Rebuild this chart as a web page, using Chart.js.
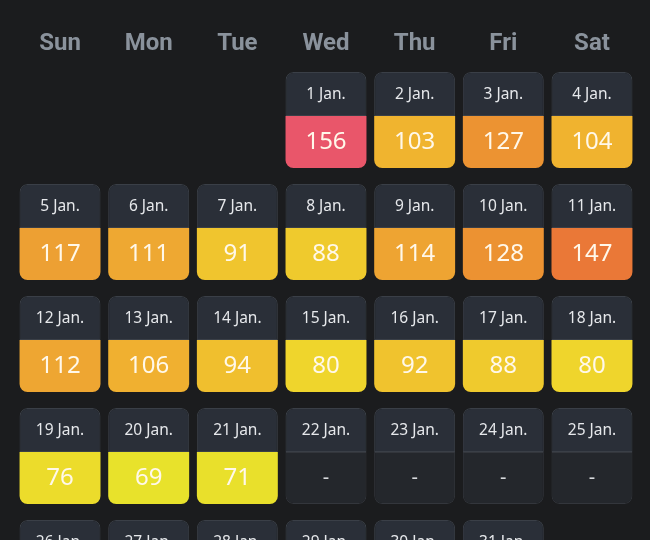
<!DOCTYPE html>
<html>
<head>
<meta charset="utf-8">
<script src="https://cdn.jsdelivr.net/npm/chart.js@4"></script>
<style>
  html, body { margin: 0; padding: 0; background: #1b1c1e; }
  #wrap { width: 650px; height: 540px; }
</style>
</head>
<body>
<div id="wrap"><canvas id="cal"></canvas></div>
<script>
const weekdays = ['Sun', 'Mon', 'Tue', 'Wed', 'Thu', 'Fri', 'Sat'];
const dates = ['1 Jan.', '2 Jan.', '3 Jan.', '4 Jan.', '5 Jan.', '6 Jan.', '7 Jan.', '8 Jan.',
  '9 Jan.', '10 Jan.', '11 Jan.', '12 Jan.', '13 Jan.', '14 Jan.', '15 Jan.', '16 Jan.',
  '17 Jan.', '18 Jan.', '19 Jan.', '20 Jan.', '21 Jan.', '22 Jan.', '23 Jan.', '24 Jan.',
  '25 Jan.', '26 Jan.', '27 Jan.', '28 Jan.', '29 Jan.', '30 Jan.', '31 Jan.'];
const values = [156, 103, 127, 104, 117, 111, 91, 88, 114, 128, 147, 112, 106, 94, 80, 92,
  88, 80, 76, 69, 71, null, null, null, null, null, null, null, null, null, null];
const firstWeekday = 3; // 1 Jan. is a Wednesday

// colour ramp, low = yellow, high = red
const colorStops = [
  [69, '#e8e22b'], [76, '#ecdc2b'], [80, '#efd52c'], [88, '#efca2d'], [94, '#f0bf2e'],
  [104, '#f0b32f'], [112, '#eea632'], [117, '#eda033'], [128, '#ec9232'], [147, '#ea7837'],
  [156, '#e9566a']
];
const EMPTY = '#24272c';
const HEAD = '#2a2f38';
const HEAD_END = 0.393;  // fraction of a week row used by the date header
const CELL_END = 0.857;  // fraction of a week row used by the whole cell

function hex(c) { return [1, 3, 5].map(i => parseInt(c.substr(i, 2), 16)); }
function colorFor(v) {
  if (v == null) return EMPTY;
  if (v <= colorStops[0][0]) return colorStops[0][1];
  for (let i = 1; i < colorStops.length; i++) {
    if (v <= colorStops[i][0]) {
      const [v0, c0] = colorStops[i - 1], [v1, c1] = colorStops[i];
      const t = (v - v0) / (v1 - v0);
      const a = hex(c0), b = hex(c1);
      return 'rgb(' + a.map((x, k) => Math.round(x + (b[k] - x) * t)).join(',') + ')';
    }
  }
  return colorStops[colorStops.length - 1][1];
}

const headData = dates.map((d, i) => {
  const slot = i + firstWeekday;
  const w = Math.floor(slot / 7);
  return { x: weekdays[slot % 7], y: [w, w + HEAD_END] };
});
const valueData = dates.map((d, i) => {
  const slot = i + firstWeekday;
  const w = Math.floor(slot / 7);
  return { x: weekdays[slot % 7], y: [w + HEAD_END, w + CELL_END] };
});

const cellText = {
  id: 'cellText',
  afterDatasetsDraw(chart) {
    const ctx = chart.ctx;
    const heads = chart.getDatasetMeta(0).data;
    const cells = chart.getDatasetMeta(1).data;
    ctx.save();
    ctx.textAlign = 'center';
    ctx.textBaseline = 'middle';
    heads.forEach((el, i) => {
      const p = el.getProps(['x', 'y', 'base'], true);
      ctx.font = '15.5px "Noto Sans"';
      ctx.fillStyle = '#e6e8eb';
      ctx.fillText(dates[i], p.x, (p.y + p.base) / 2 + 1);
    });
    cells.forEach((el, i) => {
      const p = el.getProps(['x', 'y', 'base'], true);
      const v = values[i];
      ctx.font = v == null ? '20px "Noto Sans"' : '24px "Noto Sans"';
      ctx.fillStyle = v == null ? '#d8dadd' : '#fff8ea';
      ctx.fillText(v == null ? '-' : String(v), p.x, (p.y + p.base) / 2);
    });
    ctx.restore();
  }
};

new Chart(document.getElementById('cal'), {
  type: 'bar',
  data: {
    labels: weekdays,
    datasets: [{
      data: headData,
      backgroundColor: HEAD,
      borderColor: '#3a3f47',
      borderWidth: 1,
      borderSkipped: false,
      borderRadius: { topLeft: 8, topRight: 8, bottomLeft: 0, bottomRight: 0 },
      grouped: false,
      barPercentage: 0.913,
      categoryPercentage: 1
    }, {
      data: valueData,
      backgroundColor: values.map(colorFor),
      borderColor: values.map(v => v == null ? '#33363c' : 'rgba(0,0,0,0)'),
      borderWidth: values.map(v => v == null ? 1 : 0),
      borderSkipped: false,
      borderRadius: { topLeft: 0, topRight: 0, bottomLeft: 8, bottomRight: 8 },
      grouped: false,
      barPercentage: 0.913,
      categoryPercentage: 1
    }]
  },
  options: {
    responsive: true,
    maintainAspectRatio: false,
    animation: false,
    layout: { padding: { left: 15.7, right: 13.7, top: 0, bottom: 0 } },
    plugins: { legend: { display: false }, tooltip: { enabled: false } },
    scales: {
      x: {
        position: 'top',
        grid: { display: false, drawTicks: false },
        border: { display: false },
        ticks: { color: '#8a929c', padding: 2, font: { family: 'Roboto', size: 24, weight: 'bold' } },
        afterFit(scale) { scale.height = 60.8; }
      },
      y: {
        display: false,
        reverse: true,
        min: -0.1,
        max: 4.1786
      }
    }
  },
  plugins: [cellText]
});
</script>
</body>
</html>
